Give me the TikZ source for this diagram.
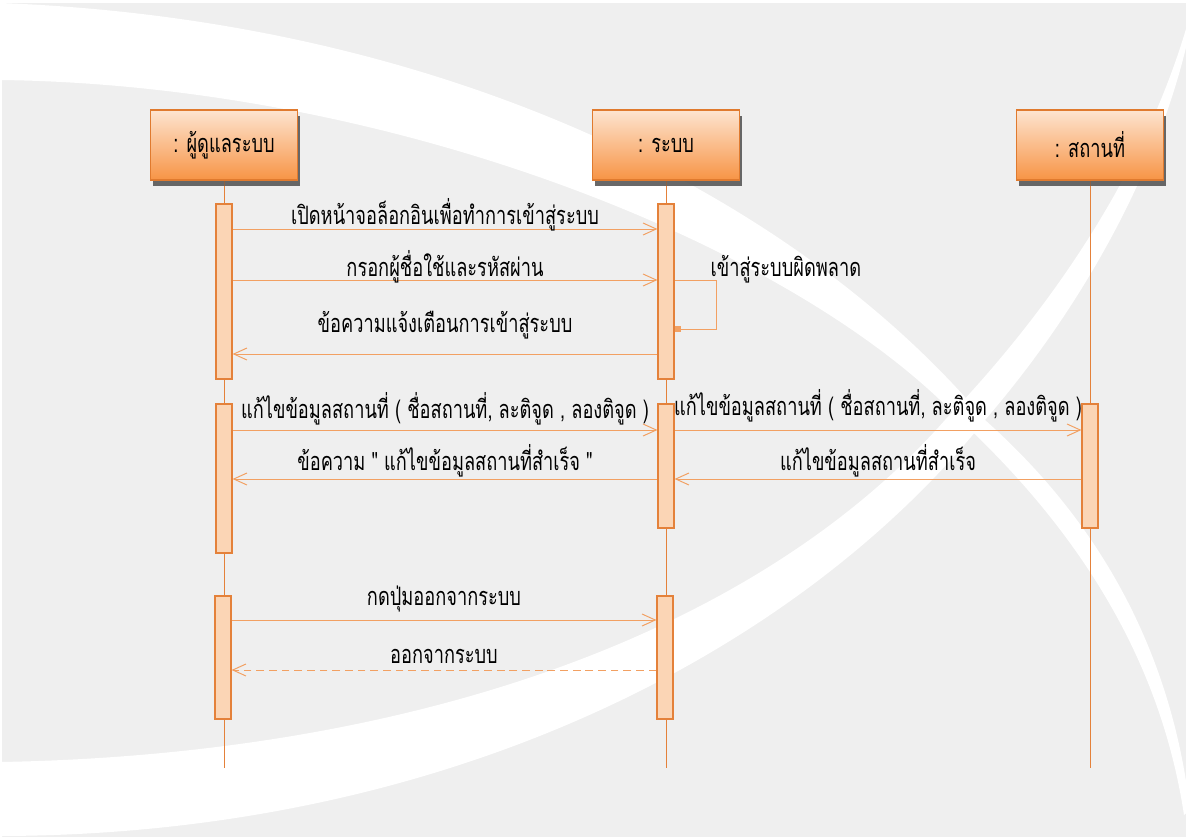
\documentclass[tikz,border=0pt]{standalone}
\usepackage{fontspec}
\newfontfamily\thaifont[Script=Thai,FakeStretch=0.72]{Loma}
\usetikzlibrary{arrows.meta,positioning,calc,shadows}

\definecolor{bgGray}{HTML}{EFEFEF}
\definecolor{hdrTop}{HTML}{FDE4D0}
\definecolor{hdrBot}{HTML}{F79445}
\definecolor{hdrLine}{HTML}{E07A2E}
\definecolor{barFill}{HTML}{FBD5B5}
\definecolor{barLine}{HTML}{E4813A}
\definecolor{msgLine}{HTML}{F2A062}

\begin{document}
\begin{tikzpicture}[x=0.025cm,y=-0.025cm]
      \tikzstyle{hdr}=[rectangle,draw=hdrLine,line width=0.8pt,top color=hdrTop,bottom color=hdrBot,
        minimum width=3.675cm,minimum height=1.75cm,inner sep=0pt,
        font=\thaifont\fontsize{18}{21}\selectfont,
        drop shadow={shadow xshift=1.5pt,shadow yshift=-4pt,fill=black!70,opacity=0.6}]
      \tikzstyle{bar}=[rectangle,draw=barLine,fill=barFill,line width=0.8pt,minimum width=0.4cm,inner sep=0pt]
      \tikzstyle{life}=[draw=barLine,line width=0.7pt]
      \tikzstyle{msg}=[draw=msgLine,line width=0.7pt,-{Straight Barb[length=3.3mm,width=3mm]}]
      \tikzstyle{ret}=[msg,dash pattern=on 5.5pt off 3.5pt]
      \tikzstyle{lbl}=[midway,anchor=base,inner sep=0pt,font=\thaifont\fontsize{18}{21}\selectfont]
      % background
      \useasboundingbox (0,0) rectangle (1188,840);
      \fill[bgGray] (2,3) rectangle (1186,837);
      \begin{scope}
        \clip (2,3) rectangle (1186,837);
        \fill[white] (0,3) .. controls (450,20) and (800,200) .. (985,420)
          .. controls (1120,540) and (1175,680) .. (1190,810)
          -- (1184,815) .. controls (1165,690) and (1105,555) .. (960,420)
          .. controls (800,250) and (400,85) .. (0,80) -- cycle;
        \fill[white] (0,836) .. controls (450,835) and (800,650) .. (985,420)
          .. controls (1080,310) and (1160,170) .. (1190,30)
          -- (1190,15) .. controls (1150,160) and (1060,300) .. (945,420)
          .. controls (750,640) and (400,755) .. (0,762) -- cycle;
      \end{scope}
      % lifelines
      \node[hdr] (admin) at (224,145) {: ผู้ดูแลระบบ};
      \node[hdr] (sys) at (666,145) {: ระบบ};
      \node[hdr] (place) at (1090,145) {: สถานที่};
      \coordinate (adminEnd) at (224,768);
      \coordinate (sysEnd) at (666,768);
      \coordinate (placeEnd) at (1090,768);
      \draw[life] (admin) -- (adminEnd);
      \draw[life] (sys) -- (sysEnd);
      \draw[life] (place) -- (placeEnd);
      \node[hdr] at (admin) {: ผู้ดูแลระบบ};
      \node[hdr] at (sys) {: ระบบ};
      \node[hdr] at (place) {: สถานที่};
      % activations
      \node[bar,minimum height=4.375cm] (a1) at (224,291.5) {};
      \node[bar,minimum height=3.725cm] (a2) at (224,478.5) {};
      \node[bar,minimum height=3.075cm] (a3) at (223,657.5) {};
      \node[bar,minimum height=4.375cm] (s1) at (666,291.5) {};
      \node[bar,minimum height=3.1cm] (s2) at (666,466) {};
      \node[bar,minimum height=3.075cm] (s3) at (665,657.5) {};
      \node[bar,minimum height=3.1cm] (p1) at (1090,466) {};
      % messages
      \draw[msg] (a1.east |- 0,229) -- node[lbl,yshift=3.5pt] {เปิดหน้าจอล็อกอินเพื่อทำการเข้าสู่ระบบ} (s1.west |- 0,229);
      \draw[msg] (a1.east |- 0,280) -- node[lbl,yshift=2.8pt] {กรอกผู้ชื่อใช้และรหัสผ่าน} (s1.west |- 0,280);
      \draw[draw=msgLine,line width=0.7pt,-{Square[length=1.6mm,width=1.6mm]}]
        (s1.east |- 0,280) -- (716,280)
        node[anchor=base west,inner sep=0pt,xshift=-4.2pt,yshift=2.8pt,font=\thaifont\fontsize{18}{21}\selectfont] {เข้าสู่ระบบผิดพลาด}
        -- (716,329) -- (s1.east |- 0,329);
      \draw[msg] (s1.west |- 0,354) -- node[lbl,yshift=15.6pt] {ข้อความแจ้งเตือนการเข้าสู่ระบบ} (a1.east |- 0,354);
      \draw[msg] (a2.east |- 0,430) -- node[lbl,yshift=8.5pt] {แก้ไขข้อมูลสถานที่ ( ชื่อสถานที่, ละติจูด , ลองติจูด )} (s2.west |- 0,430);
      \draw[msg] (s2.east |- 0,430) -- node[lbl,yshift=10pt] {แก้ไขข้อมูลสถานที่ ( ชื่อสถานที่, ละติจูด , ลองติจูด )} (p1.west |- 0,430);
      \draw[msg] (p1.west |- 0,479) -- node[lbl,yshift=5.7pt] {แก้ไขข้อมูลสถานที่สำเร็จ} (s2.east |- 0,479);
      \draw[msg] (s2.west |- 0,479) -- node[lbl,yshift=5.7pt] {ข้อความ " แก้ไขข้อมูลสถานที่สำเร็จ "} (a2.east |- 0,479);
      \draw[msg] (a3.east |- 0,620) -- node[lbl,yshift=10.6pt] {กดปุ่มออกจากระบบ} (s3.west |- 0,620);
      \draw[ret] (s3.west |- 0,670) -- node[lbl,yshift=4.3pt] {ออกจากระบบ} (a3.east |- 0,670);
    \end{tikzpicture}
\end{document}
